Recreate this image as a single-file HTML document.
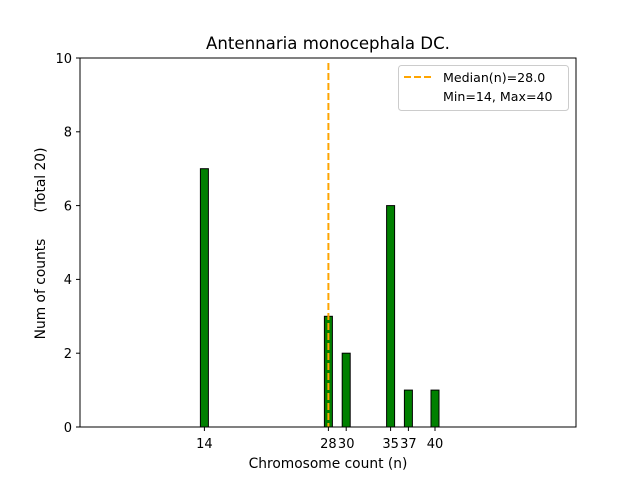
<!DOCTYPE html>
<html><head><style>body{margin:0;background:#fff}svg{display:block}</style></head><body>
<svg width="640" height="480" xmlns="http://www.w3.org/2000/svg" font-family="DejaVu Sans, Liberation Sans, sans-serif">
<rect width="640" height="480" fill="#fff"/>
<g fill="#008000" stroke="#000" stroke-width="1">
<rect x="200.4" y="168.7" width="8" height="258.3"/>
<rect x="324.4" y="316.3" width="8" height="110.7"/>
<rect x="342.2" y="353.2" width="8" height="73.8"/>
<rect x="386.6" y="205.6" width="8" height="221.4"/>
<rect x="404.4" y="390.1" width="8" height="36.9"/>
<rect x="431.0" y="390.1" width="8" height="36.9"/>
</g>
<line x1="80" y1="427" x2="465" y2="427" stroke="#000" stroke-width="1"/>
<line x1="328.4" y1="63" x2="328.4" y2="427" stroke="#FFA500" stroke-width="2" stroke-dasharray="7,3"/>
<rect x="80" y="58" width="496" height="369" fill="none" stroke="#000" stroke-width="1"/>
<g stroke="#000">
<line x1="204.4" y1="427" x2="204.4" y2="431"/><line x1="328.4" y1="427" x2="328.4" y2="431"/>
<line x1="346.2" y1="427" x2="346.2" y2="431"/><line x1="390.6" y1="427" x2="390.6" y2="431"/>
<line x1="408.4" y1="427" x2="408.4" y2="431"/><line x1="435" y1="427" x2="435" y2="431"/>
<line x1="76" y1="427" x2="80" y2="427"/><line x1="76" y1="353.2" x2="80" y2="353.2"/>
<line x1="76" y1="279.4" x2="80" y2="279.4"/><line x1="76" y1="205.6" x2="80" y2="205.6"/>
<line x1="76" y1="131.8" x2="80" y2="131.8"/><line x1="76" y1="58" x2="80" y2="58"/>
</g>
<g font-size="13" fill="#000" text-anchor="middle">
<text x="204.4" y="448">14</text><text x="328.4" y="448">28</text><text x="346.2" y="448">30</text>
<text x="390.6" y="448">35</text><text x="408.4" y="448">37</text><text x="435" y="448">40</text>
</g>
<g font-size="13" fill="#000" text-anchor="end">
<text x="72" y="432">0</text><text x="72" y="358">2</text><text x="72" y="284.2">4</text>
<text x="72" y="210.4">6</text><text x="72" y="136.6">8</text><text x="72" y="62.8">10</text>
</g>
<text x="328" y="468" font-size="13.8" text-anchor="middle">Chromosome count (n)</text>
<text x="328" y="49" font-size="16.6" text-anchor="middle">Antennaria monocephala DC.</text>
<text transform="translate(45,289) rotate(-90)" font-size="13.8" text-anchor="middle">Num of counts</text>
<text transform="translate(45,180) rotate(-90)" font-size="13.8" text-anchor="middle">(Total 20)</text>
<rect x="398.5" y="65.5" width="170" height="45" rx="3" fill="#fff" stroke="#ccc"/>
<line x1="404" y1="77" x2="432" y2="77" stroke="#FFA500" stroke-width="2" stroke-dasharray="7,3"/>
<text x="443" y="82" font-size="12.6">Median(n)=28.0</text>
<text x="443" y="101" font-size="12.6">Min=14, Max=40</text>
</svg>
</body></html>
